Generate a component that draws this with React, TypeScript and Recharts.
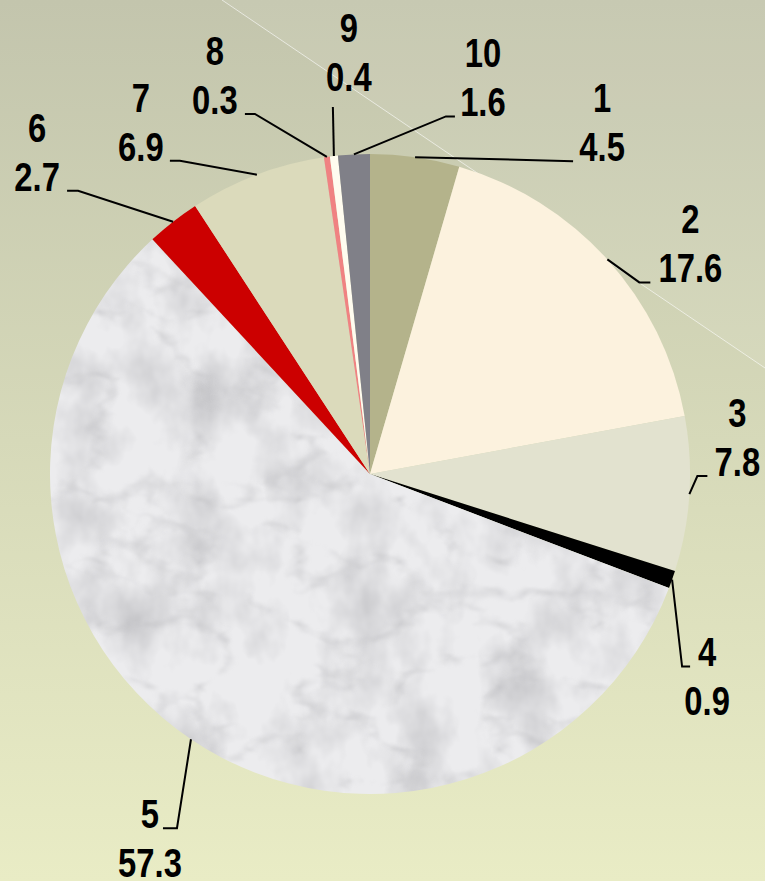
import React from "react";
import { PieChart, Pie, Cell } from "recharts";

// chart values
const sliceNames = ["1", "2", "3", "4", "5", "6", "7", "8", "9", "10"];
const sliceValues = [4.5, 17.6, 7.8, 0.9, 57.3, 2.7, 6.9, 0.3, 0.4, 1.6];

// styling
const sliceFills = [
  "#b4b38b",
  "#fcf2de",
  "#e2e2cf",
  "#000000",
  "url(#marble)",
  "#cc0000",
  "#dbdabb",
  "#f08282",
  "#fffcef",
  "#808088",
];

// label layout per slice: elbow offset from the slice edge [dx, dy],
// horizontal tail length, text block offset from tail end [tx, ty] (ty = value baseline)
const labelLayout = [
  [158, 4, 0, 29, 0],
  [32, 23, 11, 40, 0],
  [8, -18, 10, 30, 0],
  [10, 87, 8, 17, 48],
  [-14, 89, -14, -13, 49],
  [-95, -31, -11, -30, 0],
  [-77, -14, -10, -29, 0],
  [-72, -43, -10, -30, 0],
  [-1, -49, 0, 16, -16],
  [92, -38, 9, 28, 0],
];

const data = sliceNames.map((name, i) => ({ name, value: sliceValues[i] }));

const RAD = Math.PI / 180;
const font = "'Liberation Sans', Arial, sans-serif";

const renderLabel = (props: any) => {
  const { cx, cy, midAngle, outerRadius, index, value } = props;
  const sx = cx + outerRadius * Math.cos(-midAngle * RAD);
  const sy = cy + outerRadius * Math.sin(-midAngle * RAD);
  const [dx, dy, h, tx, ty] = labelLayout[index];
  const ex = sx + dx;
  const ey = sy + dy;
  const hx = ex + h;
  const x = hx + tx;
  const y = ey + ty;
  return (
    <g key={"lbl" + index}>
      <polyline
        points={`${sx},${sy} ${ex},${ey} ${hx},${ey}`}
        fill="none"
        stroke="#000"
        strokeWidth={2}
      />
      <g transform={`translate(${x},${y}) scale(0.82,1)`}>
        <text
          x={0}
          y={-49}
          textAnchor="middle"
          fontSize={40}
          fontWeight="bold"
          fontFamily={font}
          fill="#000"
        >
          {sliceNames[index]}
        </text>
        <text
          x={0}
          y={0}
          textAnchor="middle"
          fontSize={40}
          fontWeight="bold"
          fontFamily={font}
          fill="#000"
        >
          {Number(value).toFixed(1)}
        </text>
      </g>
    </g>
  );
};

export default function App() {
  return (
    <div style={{ position: "absolute", left: 0, top: 0, width: 765, height: 881 }}>
      <svg
        width={765}
        height={881}
        style={{ position: "absolute", left: 0, top: 0 }}
      >
        <defs>
          <linearGradient id="bg" x1="0" y1="0" x2="0" y2="1">
            <stop offset="0%" stopColor="#c3c5ad" />
            <stop offset="50%" stopColor="#d6d9b9" />
            <stop offset="100%" stopColor="#e9ecc5" />
          </linearGradient>
          <filter id="clouds" x="0" y="0" width="100%" height="100%">
            <feTurbulence
              type="fractalNoise"
              baseFrequency="0.018 0.014"
              numOctaves={4}
              seed={3}
            />
            <feColorMatrix
              type="matrix"
              values="0 0 0 0 0.55  0 0 0 0 0.55  0 0 0 0 0.57  -1.8 0 0 0 1.05"
            />
          </filter>
          <filter id="veins" x="0" y="0" width="100%" height="100%">
            <feTurbulence
              type="turbulence"
              baseFrequency="0.01 0.016"
              numOctaves={4}
              seed={7}
            />
            <feColorMatrix
              type="matrix"
              values="0 0 0 0 0.5  0 0 0 0 0.5  0 0 0 0 0.52  -2.2 0 0 0 0.45"
            />
            <feGaussianBlur stdDeviation={1.2} />
          </filter>
          <pattern
            id="marble"
            patternUnits="userSpaceOnUse"
            x={0}
            y={0}
            width={765}
            height={881}
          >
            <rect width={765} height={881} fill="#ececee" />
            <rect width={765} height={881} filter="url(#clouds)" />
            <rect width={765} height={881} filter="url(#veins)" />
          </pattern>
        </defs>
        <rect width={765} height={881} fill="url(#bg)" />
        <polygon points="222,0 765,0 765,368" fill="#ffffff" opacity={0.07} />
        <line
          x1={222}
          y1={0}
          x2={765}
          y2={368}
          stroke="#ffffff"
          strokeOpacity={0.6}
          strokeWidth={1}
        />
      </svg>
      <div style={{ position: "absolute", left: 0, top: 0 }}>
        <PieChart
          width={765}
          height={881}
          margin={{ top: 0, right: 0, bottom: 0, left: 0 }}
        >
          <Pie
            data={data}
            dataKey="value"
            nameKey="name"
            cx={370}
            cy={474}
            outerRadius={320}
            startAngle={90}
            endAngle={-270}
            stroke="none"
            isAnimationActive={false}
            labelLine={false}
            label={renderLabel}
          >
            {data.map((d, i) => (
              <Cell key={d.name} fill={sliceFills[i]} />
            ))}
          </Pie>
        </PieChart>
      </div>
    </div>
  );
}
